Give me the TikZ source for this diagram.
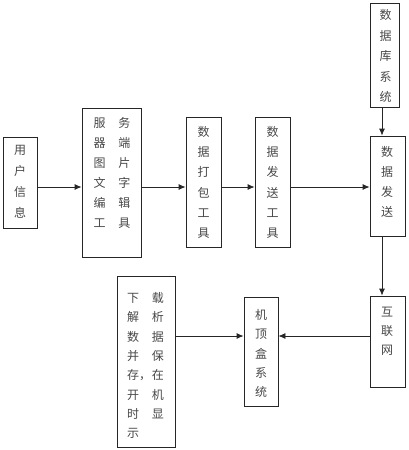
\documentclass[tikz,border=0pt]{standalone}
\usepackage{fontspec}
\newfontfamily\cjk{Noto Sans CJK SC}
\usetikzlibrary{arrows.meta}
\tikzset{
  x=1pt, y=-1pt,
  boxst/.style={draw=black!85, line width=0.8pt, rectangle, inner sep=0pt},
  txt/.style={inner sep=0pt, text=black!72, align=center, font=\cjk\fontsize{12}{20}\selectfont},
  arr/.style={draw=black!85, line width=0.8pt, -{Latex[length=7pt,width=6pt]}}
}
\begin{document}
\begin{tikzpicture}
\useasboundingbox (0,0) rectangle (409,450);
% boxes
\node[boxst, minimum width=34pt, minimum height=91pt]  (u) at (20,182.5) {};
\node[boxst, minimum width=59pt, minimum height=149pt] (s) at (111.5,182.5) {};
\node[boxst, minimum width=35pt, minimum height=130pt] (p) at (203.5,182) {};
\node[boxst, minimum width=35pt, minimum height=130pt] (f) at (272.5,182) {};
\node[boxst, minimum width=29pt, minimum height=104pt] (d) at (384.5,55) {};
\node[boxst, minimum width=35pt, minimum height=100pt] (r) at (387.5,186) {};
\node[boxst, minimum width=35pt, minimum height=91pt]  (i) at (387.5,341.5) {};
\node[boxst, minimum width=34pt, minimum height=109pt] (j) at (261,351.5) {};
\node[boxst, minimum width=58pt, minimum height=171pt] (l) at (146,361.5) {};
% texts
\node[txt, font=\cjk\fontsize{12}{21}\selectfont] (tu) at (20,181.5) {用\\户\\信\\息};
\node[txt] (ts) at (112,173) {服\hspace{13pt}务\\器\hspace{13pt}端\\图\hspace{13pt}片\\文\hspace{13pt}字\\编\hspace{13pt}辑\\工\hspace{13pt}具};
\node[txt, font=\cjk\fontsize{12}{20.2}\selectfont] (tp) at (203.5,182.5) {数\\据\\打\\包\\工\\具};
\node[txt, font=\cjk\fontsize{12}{20.2}\selectfont] (tf) at (272.5,182.5) {数\\据\\发\\送\\工\\具};
\node[txt, font=\cjk\fontsize{12}{20.5}\selectfont] (td) at (385.5,56) {数\\据\\库\\系\\统};
\node[txt] (tr) at (387,182) {数\\据\\发\\送};
\node[txt, font=\cjk\fontsize{12}{19}\selectfont] (ti) at (387,331) {互\\联\\网};
\node[txt, font=\cjk\fontsize{12}{19.25}\selectfont] (tj) at (261,353.5) {机\\顶\\盒\\系\\统};
\node[txt, align=left, font=\cjk\fontsize{12}{19.3}\selectfont] (tl) at (145.5,365.5) {下\hspace{13pt}载\\解\hspace{13pt}析\\数\hspace{13pt}据\\并\hspace{13pt}保\\存，\hspace{1pt}在\\开\hspace{13pt}机\\时\hspace{13pt}显\\示};
% connectors
\coordinate (hmain) at (0,187);
\coordinate (vmain) at (382,0);
\coordinate (hlow) at (0,336);
\draw[arr] (u.east |- hmain) -- (s.west |- hmain);
\draw[arr] (s.east |- hmain) -- (p.west |- hmain);
\draw[arr] (p.east |- hmain) -- (f.west |- hmain);
\draw[arr] (f.east |- hmain) -- (r.west |- hmain);
\draw[arr] (d.south -| vmain) -- (r.north -| vmain);
\draw[arr] (r.south -| vmain) -- (i.north -| vmain);
\draw[arr] (i.west |- hlow) -- (j.east |- hlow);
\draw[arr] (l.east |- hlow) -- (j.west |- hlow);
\end{tikzpicture}
\end{document}
